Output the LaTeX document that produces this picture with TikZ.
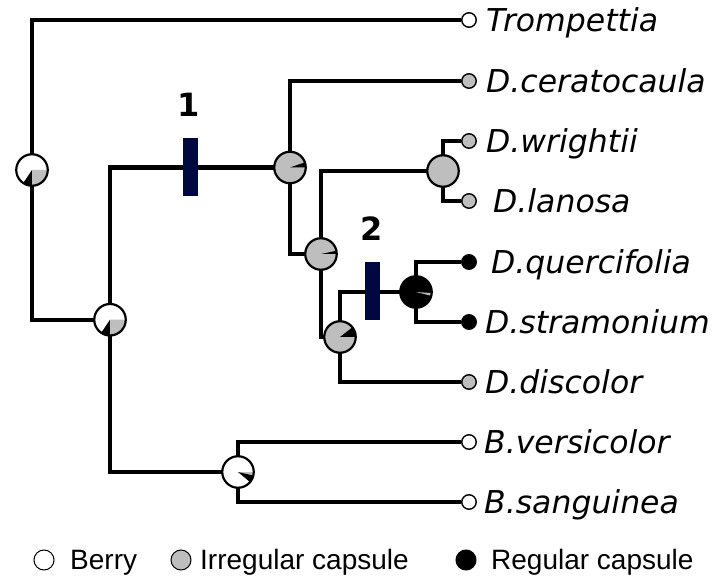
\documentclass[tikz,border=0pt]{standalone}
\usepackage{fontspec}
\setmainfont{DejaVu Sans}
\newfontfamily\legfont{Liberation Sans}
\usetikzlibrary{backgrounds}
\definecolor{pgrey}{RGB}{190,190,190}
\definecolor{navy}{RGB}{0,8,64}
\newcommand{\pwedge}[3]{\fill[#1] (path picture bounding box.center) -- ++(#2:30pt) arc[start angle=#2,end angle=#3,radius=30pt] -- cycle;}
\begin{document}
\begin{tikzpicture}[x=1pt,y=1pt,
 edge/.style={line width=4.2pt},
 pienode/.style={circle,draw=black,line width=2.2pt,minimum size=31.5pt,inner sep=0pt},
 tipnode/.style={circle,draw=black,line width=1.4pt,minimum size=14.5pt,inner sep=0pt},
 taxon/.style={anchor=base west,inner sep=0pt,font=\fontsize{31.5}{31.5}\selectfont\itshape},
 barnode/.style={fill=navy,minimum width=15pt,minimum height=58pt,inner sep=0pt},
 numlab/.style={font=\fontsize{32}{32}\selectfont\bfseries,inner sep=0pt},
 legcirc/.style={circle,draw=black,line width=1pt,minimum size=20pt,inner sep=0pt},
 legtext/.style={anchor=base west,inner sep=0pt,font=\legfont\fontsize{28}{28}\selectfont}]
\useasboundingbox (0,0) rectangle (721,581);
% tips
\node[tipnode,fill=white] (tT) at (469,561) {};
\node[tipnode,fill=pgrey] (tC) at (469,500) {};
\node[tipnode,fill=pgrey] (tW) at (469,440) {};
\node[tipnode,fill=pgrey] (tL) at (469,380) {};
\node[tipnode,fill=black] (tQ) at (469,319) {};
\node[tipnode,fill=black] (tS) at (469,259) {};
\node[tipnode,fill=pgrey] (tD) at (469,199) {};
\node[tipnode,fill=white] (tV) at (469,139) {};
\node[tipnode,fill=white] (tSa) at (469,79) {};
% internal nodes (pies)
\node[pienode,fill=white,path picture={\pwedge{black}{236}{270}\pwedge{pgrey}{270}{360}}] (R) at (32,411) {};
\node[pienode,fill=white,path picture={\pwedge{black}{236}{270}\pwedge{pgrey}{270}{360}}] (N1) at (110,261.25) {};
\node[pienode,fill=pgrey,path picture={\pwedge{black}{0}{19}}] (N2) at (290,413.5) {};
\node[pienode,fill=white,path picture={\pwedge{pgrey}{-1}{-13}\pwedge{black}{-13}{-40}}] (N3) at (238,109) {};
\node[pienode,fill=pgrey,path picture={\pwedge{black}{0}{12}}] (N4) at (321,327) {};
\node[pienode,fill=pgrey,path picture={\pwedge{black}{0}{38}}] (N5) at (340,244) {};
\node[pienode,fill=pgrey] (N6) at (443,410) {};
\node[pienode,fill=black,path picture={\pwedge{pgrey}{-4}{-14}}] (N7) at (416,289) {};
% edges
\begin{scope}[on background layer]
\draw[edge] (R.center) |- (tT);
\draw[edge] (R.center) |- (N1.center);
\draw[edge] (N1.center) |- (N2.center);
\draw[edge] (N1.center) |- (N3.center);
\draw[edge] (N2.center) |- (tC);
\draw[edge] (N2.center) |- (N4.center);
\draw[edge] (N4.center) |- (N6.center);
\draw[edge] (N4.center) |- (N5.center);
\draw[edge] (N5.center) |- (N7.center);
\draw[edge] (N5.center) |- (tD);
\draw[edge] (N6.center) |- (tW);
\draw[edge] (N6.center) |- (tL);
\draw[edge] (N7.center) |- (tQ);
\draw[edge] (N7.center) |- (tS);
\draw[edge] (N3.center) |- (tV);
\draw[edge] (N3.center) |- (tSa);
\end{scope}
% bars and numbers
\node[barnode] (bar1) at (190.5,413.5) {};
\node[barnode] (bar2) at (372.5,290) {};
\node[numlab] (num1) at (189,476) {1};
\node[numlab] (num2) at (372,352) {2};
% taxon labels
\node[taxon] (lT) at (486,549.5) {Trompettia};
\node[taxon] (lC) at (486,488.5) {D.ceratocaula};
\node[taxon] (lW) at (486,428.5) {D.wrightii};
\node[taxon] (lL) at (493,368.5) {D.lanosa};
\node[taxon] (lQ) at (491,307.5) {D.quercifolia};
\node[taxon] (lS) at (485,247.5) {D.stramonium};
\node[taxon] (lD) at (485,187.5) {D.discolor};
\node[taxon] (lV) at (484,127.5) {B.versicolor};
\node[taxon] (lSa) at (484,67.5) {B.sanguinea};
% legend
\node[legcirc,fill=white] (lgB) at (44,21) {};
\node[legtext] (ltB) at (70,11) {Berry};
\node[legcirc,fill=pgrey] (lgI) at (181,21) {};
\node[legtext] (ltI) at (200,11) {Irregular capsule};
\node[legcirc,fill=black] (lgR) at (466,21) {};
\node[legtext] (ltR) at (491,11) {Regular capsule};
\end{tikzpicture}
\end{document}
